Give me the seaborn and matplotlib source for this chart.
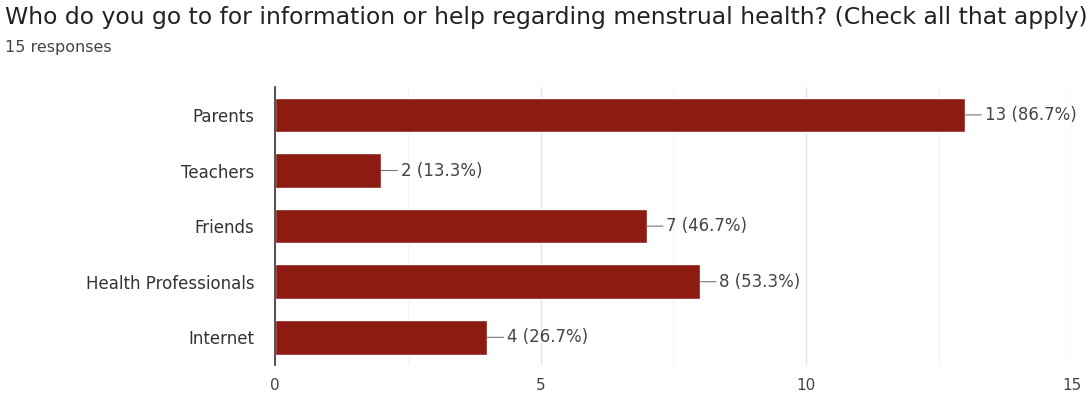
import seaborn as sns
import matplotlib.pyplot as plt
import pandas as pd

sources = ["Parents", "Teachers", "Friends", "Health Professionals", "Internet"]
counts = [13, 2, 7, 8, 4]
total_responses = 15

df = pd.DataFrame({"source": sources, "count": counts})

sns.set_style("white")
plt.rcParams['font.family'] = ['DejaVu Sans']

fig = plt.figure(figsize=(10.88, 3.96), dpi=100)
ax = fig.add_axes([0.2528, 0.078, 0.732, 0.702])

sns.barplot(x="count", y="source", data=df, color="#8c1b11", width=0.62,
            saturation=1, ax=ax)

ax.set_xlim(0, 15)
ax.set_xticks([0, 5, 10, 15])
ax.set_xticks([2.5, 7.5, 12.5], minor=True)
ax.grid(axis="x", which="major", color="#e4e4e4", lw=1)
ax.grid(axis="x", which="minor", color="#f3f3f3", lw=1)
ax.set_axisbelow(True)
for s in ["top", "right", "bottom"]:
    ax.spines[s].set_visible(False)
ax.spines["left"].set_color("#333333")
ax.spines["left"].set_linewidth(1.2)
ax.tick_params(axis="x", which="both", length=0, labelsize=11, labelcolor="#444444", pad=9)
ax.tick_params(axis="y", length=0, labelsize=12, labelcolor="#333333", pad=15)
ax.set_xlabel("")
ax.set_ylabel("")

for i, c in enumerate(counts):
    pct = c / total_responses * 100
    ax.annotate(f"{c} ({pct:.1f}%)", xy=(c, i), xytext=(14, 0),
                textcoords="offset points", va="center", ha="left",
                fontsize=12, color="#444444",
                arrowprops=dict(arrowstyle="-", color="#777777", lw=0.8,
                                shrinkA=0, shrinkB=0))

fig.text(0.005, 0.955, "Who do you go to for information or help regarding menstrual health? (Check all that apply)",
         fontsize=16.9, color="#222222", va="center", ha="left")
fig.text(0.005, 0.88, f"{total_responses} responses", fontsize=11.5, color="#444444",
         va="center", ha="left")

fig.savefig("out.png", dpi=100)
